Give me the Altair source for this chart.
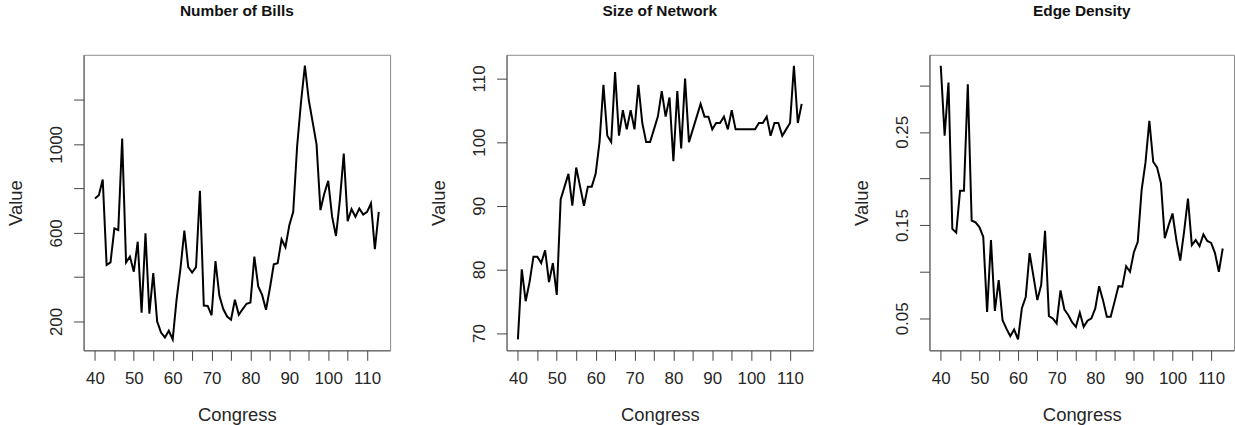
import altair as alt
import pandas as pd

congress = list(range(40, 114))

bills = [755, 770, 841, 455, 467, 620, 613, 1026, 467, 493,
         425, 560, 240, 598, 235, 418, 200, 150, 128, 158,
         119, 300, 440, 610, 445, 421, 445, 790, 272, 270,
         228, 473, 317, 256, 222, 208, 298, 230, 256, 280,
         286, 493, 358, 320, 253, 350, 458, 463, 571, 535,
         635, 695, 990, 1190, 1355, 1200, 1100, 1000, 703, 778,
         835, 673, 586, 748, 958, 653, 707, 673, 710, 683,
         695, 733, 526, 695]

network_size = [69, 80, 75, 78, 82, 82, 81, 83, 78, 81,
                76, 91, 93, 95, 90, 96, 93, 90, 93, 93,
                95, 100, 109, 101, 100, 111, 101, 105, 102, 105,
                102, 109, 103, 100, 100, 102, 104, 108, 104, 107,
                97, 108, 99, 110, 100, 102, 104, 106, 104, 104,
                102, 103, 103, 104, 102, 105, 102, 102, 102, 102,
                102, 102, 103, 103, 104, 101, 103, 103, 101, 102,
                103, 112, 103, 106]

edge_density = [0.321, 0.246, 0.303, 0.146, 0.142, 0.187, 0.187, 0.301, 0.155, 0.153,
                0.148, 0.1375, 0.057, 0.134, 0.058, 0.091, 0.048, 0.039, 0.031, 0.038,
                0.0275, 0.061, 0.073, 0.120, 0.095, 0.0696, 0.086, 0.144, 0.0525, 0.050,
                0.0446, 0.080, 0.0596, 0.0536, 0.046, 0.041, 0.056, 0.041, 0.0475, 0.050,
                0.0607, 0.0846, 0.0696, 0.0518, 0.0518, 0.068, 0.0846, 0.084, 0.106, 0.100,
                0.121, 0.132, 0.1875, 0.217, 0.262, 0.218, 0.212, 0.195, 0.136, 0.150,
                0.1625, 0.134, 0.112, 0.143, 0.1786, 0.1286, 0.134, 0.1275, 0.140, 0.133,
                0.131, 0.120, 0.100, 0.125]

titles = ["Number of Bills", "Size of Network", "Edge Density"]

x_ticks = [40, 45, 50, 55, 60, 65, 70, 75, 80, 85, 90, 95, 100, 105, 110]
x_labels = ["40", "50", "60", "70", "80", "90", "100", "110"]

y_ticks = [
    [200, 400, 600, 800, 1000, 1200],
    [70, 80, 90, 100, 110],
    [0.05, 0.10, 0.15, 0.20, 0.25, 0.30],
]
y_labels = [
    ["200", "600", "1000"],
    ["70", "80", "90", "100", "110"],
    ["0.05", "0.15", "0.25"],
]
y_formats = ["d", "d", ".2f"]

FONT = "Liberation Sans"
TEXT = "#262626"


def shown(labels):
    items = ",".join("'%s'" % s for s in labels)
    return "indexof([%s], datum.label) >= 0 ? datum.label : ''" % items


def panel(values, title, yt, yl, yfmt, width):
    df = pd.DataFrame({"Congress": congress, "Value": values})
    lo, hi = min(values), max(values)
    ypad = 0.04 * (hi - lo)
    xpad = 0.04 * (max(congress) - min(congress))
    common = dict(
        domain=True, domainColor="#555555", domainWidth=1,
        ticks=True, tickSize=10, tickColor="#444444", tickWidth=1,
        grid=False, labelFont=FONT, labelFontSize=17, labelColor=TEXT,
        titleFont=FONT, titleFontSize=18.5, titleFontWeight="normal",
        titleColor=TEXT, labelOverlap=False, labelFlush=False,
    )
    return alt.Chart(df).mark_line(color="black", strokeWidth=2).encode(
        x=alt.X(
            "Congress:Q",
            scale=alt.Scale(domain=[min(congress) - xpad, max(congress) + xpad],
                            nice=False, zero=False),
            axis=alt.Axis(values=x_ticks, format="d", labelExpr=shown(x_labels),
                          labelPadding=10, titlePadding=20, title="Congress",
                          **common),
        ),
        y=alt.Y(
            "Value:Q",
            scale=alt.Scale(domain=[lo - ypad, hi + ypad], nice=False, zero=False),
            axis=alt.Axis(values=yt, format=yfmt, labelExpr=shown(yl),
                          labelAngle=270, labelAlign="center",
                          labelBaseline="bottom", labelPadding=8,
                          titlePadding=22, title="Value", **common),
        ),
    ).properties(
        width=width, height=297,
        title=alt.TitleParams(title, font=FONT, fontSize=15.5, fontWeight="bold",
                              color="#111111", anchor="middle", offset=35),
    )


p1 = panel(bills, titles[0], y_ticks[0], y_labels[0], y_formats[0], 308)
p2 = panel(network_size, titles[1], y_ticks[1], y_labels[1], y_formats[1], 308)
p3 = panel(edge_density, titles[2], y_ticks[2], y_labels[2], y_formats[2], 306)

chart = alt.hconcat(p1, p2, p3, spacing=38).properties(
    padding={"left": 6, "top": 3, "right": 0, "bottom": 0},
    background="white",
).configure_view(stroke="#8a8a8a", strokeWidth=1)

chart.save("out.html", embed_options={"renderer": "svg", "actions": False})
